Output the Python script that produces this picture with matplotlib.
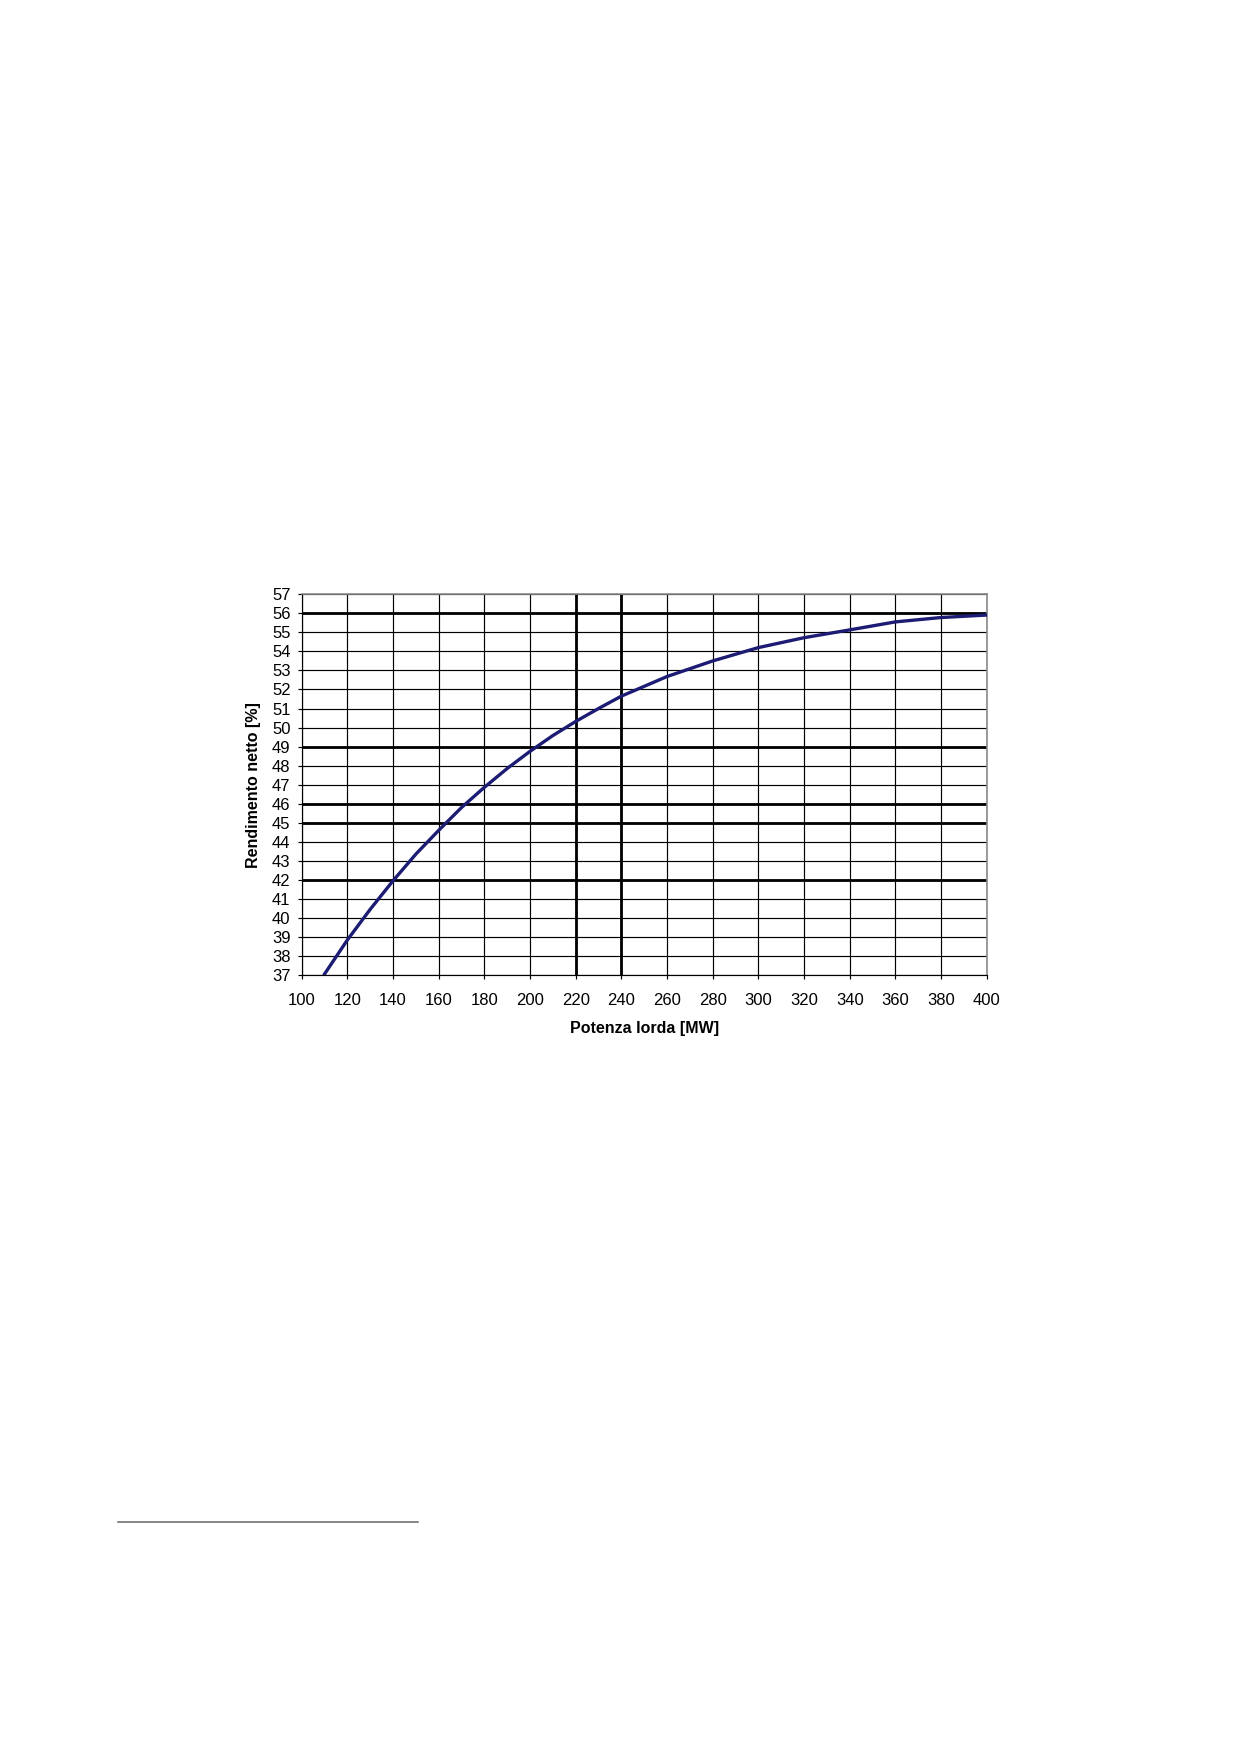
import matplotlib
matplotlib.use('Agg')
import matplotlib.pyplot as plt
import numpy as np

plt.rcParams['font.family'] = ['Liberation Sans', 'DejaVu Sans']

# curve
potenza = [110, 120, 130, 140, 150, 160, 170, 180, 190, 200, 210, 220, 230, 240,
           260, 280, 300, 320, 340, 360, 380, 400]
rendimento = [37.05, 38.84, 40.45, 41.95, 43.35, 44.6, 45.8, 46.86, 47.85, 48.75,
              49.58, 50.32, 51.0, 51.65, 52.68, 53.5, 54.2, 54.72, 55.13, 55.55,
              55.78, 55.91]

x_ticks = list(range(100, 401, 20))
y_ticks = list(range(37, 58))
thick_h = [56, 49, 46, 45, 42]
thick_v = [220, 240]

fig = plt.figure(figsize=(12.4, 17.54), dpi=100)
ax = fig.add_axes([301.7 / 1240, 1 - 975 / 1754, 685 / 1240, 380.7 / 1754])

ax.set_xlim(100, 400)
ax.set_ylim(37, 57)
ax.set_xticks(x_ticks)
ax.set_yticks(y_ticks)
ax.grid(True, color='black', linewidth=0.85)
for v in thick_h:
    ax.axhline(v, color='black', linewidth=2.0, zorder=1.5)
for v in thick_v:
    ax.axvline(v, color='black', linewidth=2.0, zorder=1.5)

ax.plot(potenza, rendimento, color='#1c1c74', linewidth=2.4, zorder=3)

for s in ['top', 'right']:
    ax.spines[s].set_color('#8a8a8a')
    ax.spines[s].set_linewidth(1.2)
for s in ['left', 'bottom']:
    ax.spines[s].set_color('black')
    ax.spines[s].set_linewidth(0.85)

ax.tick_params(axis='y', direction='out', length=3, width=0.85, pad=5, labelsize=12)
ax.tick_params(axis='x', direction='out', length=3, width=0.85, pad=10, labelsize=12)

ax.set_xlabel('Potenza lorda [MW]', fontsize=11.5, fontweight='bold')
ax.set_ylabel('Rendimento netto [%]', fontsize=11.5, fontweight='bold')
ax.xaxis.set_label_coords(0.5, -0.122)
ax.yaxis.set_label_coords(-0.059, 0.5)

# footnote separator line
fig.add_artist(plt.Line2D([118 / 1240, 418 / 1240], [1 - 1522 / 1754] * 2,
                          color='#666666', linewidth=1.1))

fig.savefig('out.png', dpi=100)
